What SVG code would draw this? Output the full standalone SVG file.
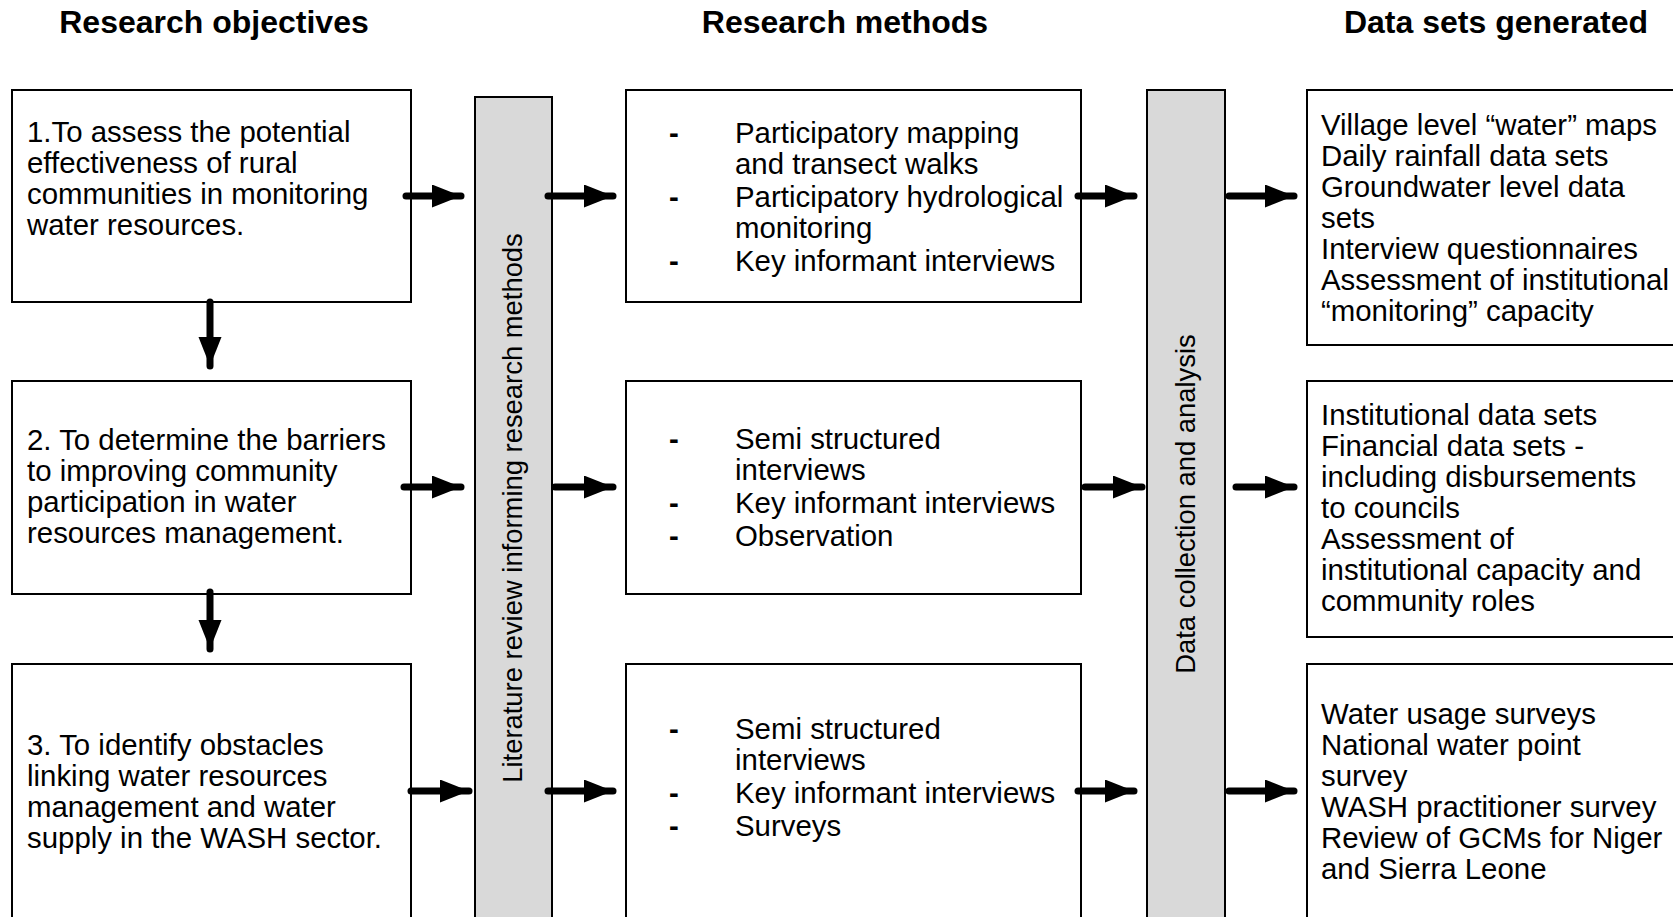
<svg xmlns="http://www.w3.org/2000/svg" width="1673" height="917" viewBox="0 0 1673 917">
<defs>
<style>
.box{fill:#fff;stroke:#000;stroke-width:2}
.bar{fill:#d9d9d9;stroke:#000;stroke-width:2}
.t{font-family:"Liberation Sans",Arial,sans-serif;font-size:29.4px;fill:#000}
.d{font-family:"Liberation Sans",Arial,sans-serif;font-size:29.4px;font-weight:bold;fill:#000}
.h{font-family:"Liberation Sans",Arial,sans-serif;font-size:32px;font-weight:bold;fill:#000;text-anchor:middle}
.r{font-family:"Liberation Sans",Arial,sans-serif;font-size:27.4px;fill:#000;text-anchor:middle}
.c{stroke:#000;stroke-width:7;stroke-linecap:round;fill:none}
</style>
<marker id="ah" markerUnits="userSpaceOnUse" markerWidth="30" markerHeight="24" refX="29" refY="11.5" orient="auto">
<path d="M0,0 L29,11.5 L0,23 Z" fill="#000"/>
</marker>
</defs>
<rect width="1673" height="917" fill="#fff"/>
<g id="titles">
<text class="h" x="214" y="33">Research objectives</text>
<text class="h" x="845" y="33">Research methods</text>
<text class="h" x="1496" y="33">Data sets generated</text>
</g>
<g id="obj1"><rect class="box" x="12" y="90" width="399" height="212"/>
<text class="t" x="27" y="142">1.To assess the potential</text>
<text class="t" x="27" y="173">effectiveness of rural</text>
<text class="t" x="27" y="204">communities in monitoring</text>
<text class="t" x="27" y="235">water resources.</text></g>
<g id="obj2"><rect class="box" x="12" y="381" width="399" height="213"/>
<text class="t" x="27" y="450">2. To determine the barriers</text>
<text class="t" x="27" y="481">to improving community</text>
<text class="t" x="27" y="512">participation in water</text>
<text class="t" x="27" y="543">resources management.</text></g>
<g id="obj3"><rect class="box" x="12" y="664" width="399" height="270"/>
<text class="t" x="27" y="755">3. To identify obstacles</text>
<text class="t" x="27" y="786">linking water resources</text>
<text class="t" x="27" y="817">management and water</text>
<text class="t" x="27" y="848">supply in the WASH sector.</text></g>
<g id="litreview"><rect class="bar" x="475" y="97" width="77" height="840"/>
<text class="r" transform="translate(513,508) rotate(-90)" y="9">Literature review informing research methods</text></g>
<g id="meth1"><rect class="box" x="626" y="90" width="455" height="212"/>
<text class="d" x="669" y="143">-</text><text class="t" x="735" y="143">Participatory mapping</text>
<text class="t" x="735" y="174">and transect walks</text>
<text class="d" x="669" y="207">-</text><text class="t" x="735" y="207">Participatory hydrological</text>
<text class="t" x="735" y="238">monitoring</text>
<text class="d" x="669" y="271">-</text><text class="t" x="735" y="271">Key informant interviews</text></g>
<g id="meth2"><rect class="box" x="626" y="381" width="455" height="213"/>
<text class="d" x="669" y="449">-</text><text class="t" x="735" y="449">Semi structured</text>
<text class="t" x="735" y="480">interviews</text>
<text class="d" x="669" y="513">-</text><text class="t" x="735" y="513">Key informant interviews</text>
<text class="d" x="669" y="546">-</text><text class="t" x="735" y="546">Observation</text></g>
<g id="meth3"><rect class="box" x="626" y="664" width="455" height="270"/>
<text class="d" x="669" y="739">-</text><text class="t" x="735" y="739">Semi structured</text>
<text class="t" x="735" y="770">interviews</text>
<text class="d" x="669" y="803">-</text><text class="t" x="735" y="803">Key informant interviews</text>
<text class="d" x="669" y="836">-</text><text class="t" x="735" y="836">Surveys</text></g>
<g id="datacoll"><rect class="bar" x="1147" y="90" width="78" height="850"/>
<text class="r" transform="translate(1186,504) rotate(-90)" y="9">Data collection and analysis</text></g>
<g id="data1"><rect class="box" x="1307" y="90" width="380" height="255"/>
<text class="t" x="1321" y="135">Village level “water” maps</text>
<text class="t" x="1321" y="166">Daily rainfall data sets</text>
<text class="t" x="1321" y="197">Groundwater level data</text>
<text class="t" x="1321" y="228">sets</text>
<text class="t" x="1321" y="259">Interview questionnaires</text>
<text class="t" x="1321" y="290">Assessment of institutional</text>
<text class="t" x="1321" y="321">“monitoring” capacity</text></g>
<g id="data2"><rect class="box" x="1307" y="381" width="380" height="256"/>
<text class="t" x="1321" y="425">Institutional data sets</text>
<text class="t" x="1321" y="456">Financial data sets -</text>
<text class="t" x="1321" y="487">including disbursements</text>
<text class="t" x="1321" y="518">to councils</text>
<text class="t" x="1321" y="549">Assessment of</text>
<text class="t" x="1321" y="580">institutional capacity and</text>
<text class="t" x="1321" y="611">community roles</text></g>
<g id="data3"><rect class="box" x="1307" y="664" width="380" height="270"/>
<text class="t" x="1321" y="724">Water usage surveys</text>
<text class="t" x="1321" y="755">National water point</text>
<text class="t" x="1321" y="786">survey</text>
<text class="t" x="1321" y="817">WASH practitioner survey</text>
<text class="t" x="1321" y="848">Review of GCMs for Niger</text>
<text class="t" x="1321" y="879">and Sierra Leone</text></g>
<g id="connectors">
<path class="c" d="M406,196 H461" marker-end="url(#ah)"/>
<path class="c" d="M548,196 H613" marker-end="url(#ah)"/>
<path class="c" d="M1078,196 H1134" marker-end="url(#ah)"/>
<path class="c" d="M1229,196 H1294" marker-end="url(#ah)"/>
<path class="c" d="M404,487 H461" marker-end="url(#ah)"/>
<path class="c" d="M555,487 H613" marker-end="url(#ah)"/>
<path class="c" d="M1085,487 H1142" marker-end="url(#ah)"/>
<path class="c" d="M1236,487 H1294" marker-end="url(#ah)"/>
<path class="c" d="M411,791 H469" marker-end="url(#ah)"/>
<path class="c" d="M548,791 H613" marker-end="url(#ah)"/>
<path class="c" d="M1078,791 H1134" marker-end="url(#ah)"/>
<path class="c" d="M1229,791 H1294" marker-end="url(#ah)"/>
<path class="c" d="M210,302 V366" marker-end="url(#ah)"/>
<path class="c" d="M210,592 V649" marker-end="url(#ah)"/>
</g>
</svg>
